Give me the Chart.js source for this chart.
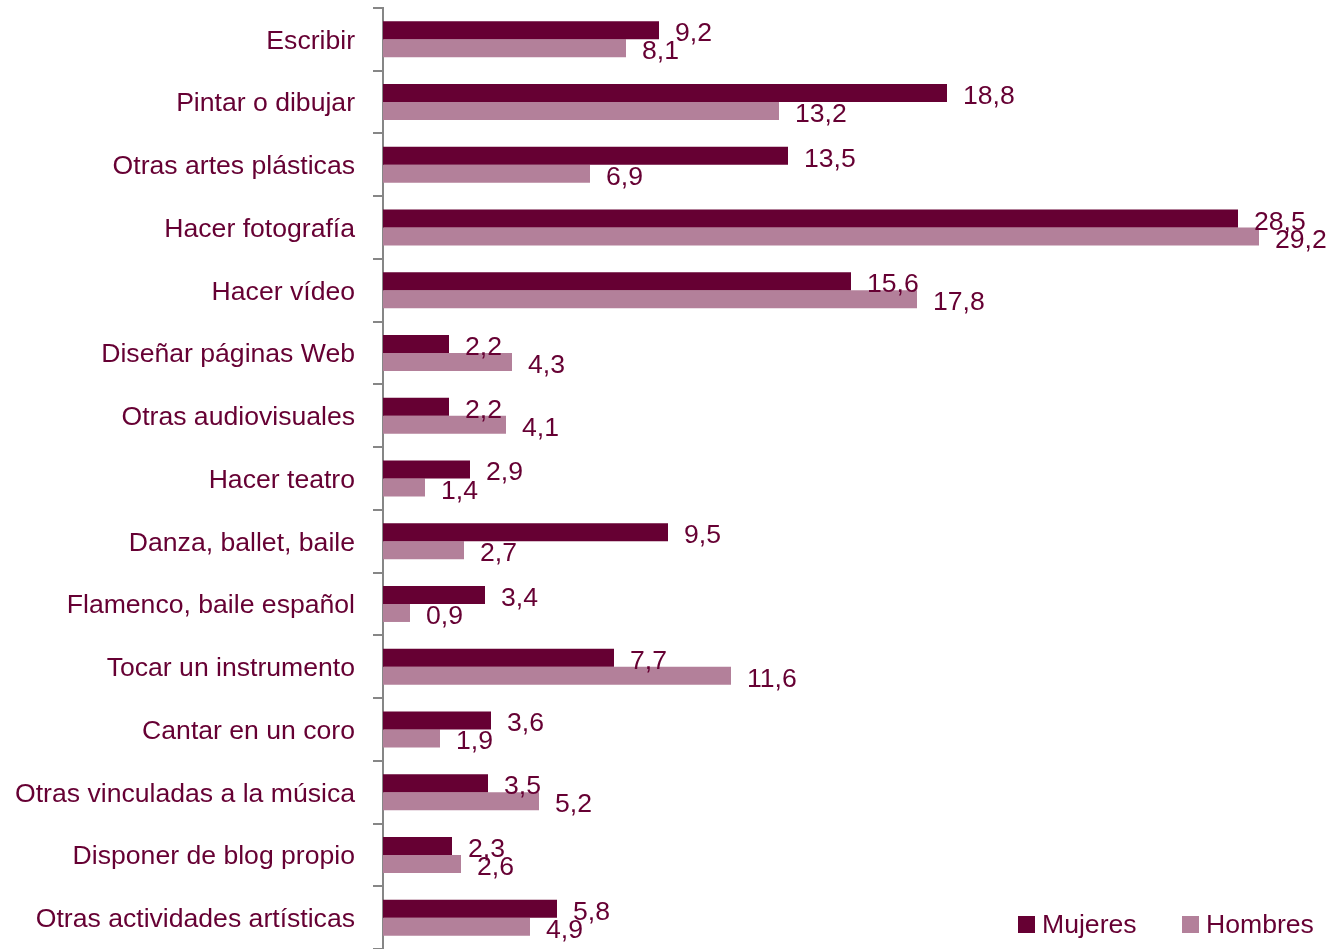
<!DOCTYPE html>
<html>
<head>
<meta charset="utf-8">
<script src="https://cdn.jsdelivr.net/npm/chart.js@4/dist/chart.umd.min.js"></script>
<style>
  html, body { margin: 0; padding: 0; background: #fff; }
  #wrap { width: 1330px; height: 949px; }
</style>
</head>
<body>
<div id="wrap"><canvas id="activityChart" width="1330" height="949"></canvas></div>
<script>
const categories = [
  'Escribir',
  'Pintar o dibujar',
  'Otras artes plásticas',
  'Hacer fotografía',
  'Hacer vídeo',
  'Diseñar páginas Web',
  'Otras audiovisuales',
  'Hacer teatro',
  'Danza, ballet, baile',
  'Flamenco, baile español',
  'Tocar un instrumento',
  'Cantar en un coro',
  'Otras vinculadas a la música',
  'Disponer de blog propio',
  'Otras actividades artísticas'
];
const mujeres = [9.2, 18.8, 13.5, 28.5, 15.6, 2.2, 2.2, 2.9, 9.5, 3.4, 7.7, 3.6, 3.5, 2.3, 5.8];
const hombres = [8.1, 13.2, 6.9, 29.2, 17.8, 4.3, 4.1, 1.4, 2.7, 0.9, 11.6, 1.9, 5.2, 2.6, 4.9];
const seriesNames = ['Mujeres', 'Hombres'];

const TEXT = '#660033';
const FONT = '"Liberation Sans", Arial, sans-serif';
const FONT_SIZE = 26.6;

// value labels at the end of each bar, decimal comma
const valueLabels = {
  id: 'valueLabels',
  afterDatasetsDraw(chart) {
    const ctx = chart.ctx;
    ctx.save();
    ctx.font = FONT_SIZE + 'px ' + FONT;
    ctx.fillStyle = TEXT;
    ctx.textAlign = 'left';
    ctx.textBaseline = 'alphabetic';
    chart.data.datasets.forEach((ds, i) => {
      chart.getDatasetMeta(i).data.forEach((bar, j) => {
        const txt = ds.data[j].toFixed(1).replace('.', ',');
        ctx.fillText(txt, bar.x + 16, bar.y + 11);
      });
    });
    ctx.restore();
  }
};

// legend in the lower right corner of the plot
const cornerLegend = {
  id: 'cornerLegend',
  afterDraw(chart) {
    const ctx = chart.ctx;
    const area = chart.chartArea;
    ctx.save();
    ctx.font = FONT_SIZE + 'px ' + FONT;
    ctx.textBaseline = 'alphabetic';
    let x = area.right - 310;
    const y = area.bottom - 16;
    chart.data.datasets.forEach((ds) => {
      ctx.fillStyle = ds.backgroundColor;
      ctx.fillRect(x, y - 17, 17, 17);
      ctx.fillStyle = TEXT;
      ctx.fillText(ds.label, x + 24, y);
      x += 164;
    });
    ctx.restore();
  }
};

new Chart(document.getElementById('activityChart').getContext('2d'), {
  type: 'bar',
  data: {
    labels: categories,
    datasets: [
      { label: seriesNames[0], data: mujeres, backgroundColor: '#660033' },
      { label: seriesNames[1], data: hombres, backgroundColor: '#b3809a' }
    ]
  },
  options: {
    indexAxis: 'y',
    responsive: false,
    animation: false,
    layout: { padding: { top: 8, right: 2, bottom: 0, left: 0 } },
    datasets: {
      bar: { categoryPercentage: 0.574, barPercentage: 1.0 }
    },
    scales: {
      x: {
        display: false,
        min: 0,
        max: 31.5
      },
      y: {
        afterFit(scale) {
          scale.width = 383;
          scale.paddingTop = 0;
          scale.paddingBottom = 0;
        },
        grid: {
          offset: true,
          drawOnChartArea: false,
          drawTicks: true,
          tickLength: 10,
          color: '#868686',
          lineWidth: 2
        },
        border: { display: true, color: '#868686', width: 2 },
        ticks: {
          padding: 18,
          labelOffset: 2,
          color: TEXT,
          font: { family: FONT, size: FONT_SIZE }
        }
      }
    },
    plugins: {
      legend: { display: false },
      tooltip: { enabled: false }
    }
  },
  plugins: [valueLabels, cornerLegend]
});
</script>
</body>
</html>
